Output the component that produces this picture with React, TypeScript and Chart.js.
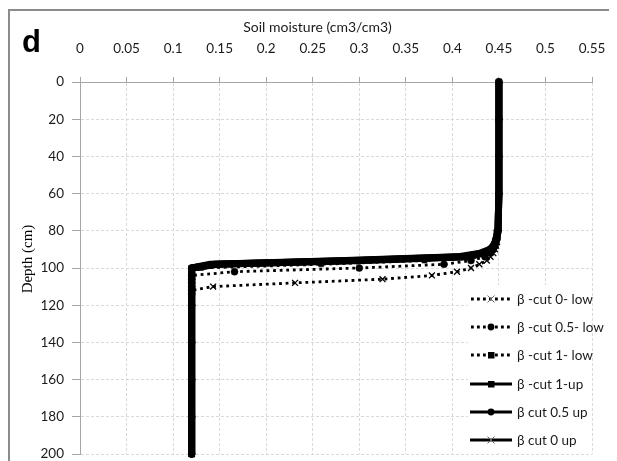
import React, { useEffect, useRef } from "react";
import { Chart, registerables } from "chart.js";

Chart.register(...registerables);

// Depth (cm) of each sample point
const DEPTH = [0, 20, 40, 60, 80, 84, 86, 88, 90, 92, 94, 96, 98, 100, 102, 104, 106, 108, 110, 112, 114, 120, 140, 160, 180, 200];

// Soil moisture (cm3/cm3) per series
const CUT0_LOW = [0.45, 0.45, 0.45, 0.45, 0.449, 0.448, 0.448, 0.447, 0.446, 0.444, 0.441, 0.437, 0.429, 0.42, 0.405, 0.378, 0.325, 0.231, 0.143, 0.12, 0.12, 0.12, 0.12, 0.12, 0.12, 0.12];
const CUT05_LOW = [0.45, 0.45, 0.45, 0.45, 0.449, 0.448, 0.447, 0.446, 0.444, 0.441, 0.435, 0.42, 0.391, 0.3, 0.166, 0.12, 0.12, 0.12, 0.12, 0.12, 0.12, 0.12, 0.12, 0.12, 0.12, 0.12];
const CUT1_LOW = [0.45, 0.45, 0.45, 0.45, 0.449, 0.448, 0.447, 0.445, 0.442, 0.436, 0.42, 0.37, 0.259, 0.13, 0.12, 0.12, 0.12, 0.12, 0.12, 0.12, 0.12, 0.12, 0.12, 0.12, 0.12, 0.12];
const CUT1_UP = [0.45, 0.45, 0.45, 0.45, 0.449, 0.447, 0.446, 0.444, 0.44, 0.43, 0.405, 0.285, 0.14, 0.12, 0.12, 0.12, 0.12, 0.12, 0.12, 0.12, 0.12, 0.12, 0.12, 0.12, 0.12, 0.12];
const CUT05_UP = [0.45, 0.45, 0.45, 0.45, 0.449, 0.447, 0.446, 0.444, 0.441, 0.432, 0.41, 0.295, 0.145, 0.12, 0.12, 0.12, 0.12, 0.12, 0.12, 0.12, 0.12, 0.12, 0.12, 0.12, 0.12, 0.12];
const CUT0_UP = [0.45, 0.45, 0.45, 0.45, 0.449, 0.448, 0.446, 0.445, 0.441, 0.433, 0.418, 0.303, 0.148, 0.12, 0.12, 0.12, 0.12, 0.12, 0.12, 0.12, 0.12, 0.12, 0.12, 0.12, 0.12, 0.12];

const SERIES_NAMES = ["β -cut 0- low", "β -cut 0.5- low", "β -cut 1- low", "β -cut 1-up", "β cut 0.5 up", "β cut 0 up"];
const SERIES_VALUES = [CUT0_LOW, CUT05_LOW, CUT1_LOW, CUT1_UP, CUT05_UP, CUT0_UP];

const X_TICKS = [0, 0.05, 0.1, 0.15, 0.2, 0.25, 0.3, 0.35, 0.4, 0.45, 0.5, 0.55];
const X_TICK_LABELS = ["0", "0.05", "0.1", "0.15", "0.2", "0.25", "0.3", "0.35", "0.4", "0.45", "0.5", "0.55"];
const Y_TICKS = [0, 20, 40, 60, 80, 100, 120, 140, 160, 180, 200];

const X_TITLE = "Soil moisture (cm3/cm3)";
const Y_TITLE = "Depth (cm)";
const PANEL = "d";

type Marker = "cross" | "circle" | "rect";
const STYLES: { dotted: boolean; marker: Marker }[] = [
  { dotted: true, marker: "cross" },
  { dotted: true, marker: "circle" },
  { dotted: true, marker: "rect" },
  { dotted: false, marker: "rect" },
  { dotted: false, marker: "circle" },
  { dotted: false, marker: "cross" },
];

const FONT = "Lato, 'Open Sans', sans-serif";

function Sample({ dotted, marker }: { dotted: boolean; marker: Marker }) {
  return (
    <svg width={42} height={12} style={{ display: "block" }}>
      {dotted ? (
        <line x1={1} y1={6} x2={41} y2={6} stroke="#000" strokeWidth={2.8} strokeDasharray="2.8 3.2" />
      ) : (
        <line x1={0} y1={6} x2={42} y2={6} stroke="#000" strokeWidth={3.2} />
      )}
      {marker === "circle" && <circle cx={21} cy={6} r={3.4} fill="#000" />}
      {marker === "rect" && <rect x={18} y={3} width={6.5} height={6.5} fill="#000" />}
      {marker === "cross" && (
        <g stroke="#666" strokeWidth={1}>
          <line x1={17.5} y1={2.5} x2={24.5} y2={9.5} />
          <line x1={24.5} y1={2.5} x2={17.5} y2={9.5} />
        </g>
      )}
    </svg>
  );
}

export default function App() {
  const ref = useRef<HTMLCanvasElement>(null);

  useEffect(() => {
    if (!ref.current) return;
    const datasets = SERIES_VALUES.map((xs, si) => {
      const st = STYLES[si];
      const pointStyle = st.marker === "cross" ? "crossRot" : st.marker;
      return {
        label: SERIES_NAMES[si],
        data: DEPTH.map((d, i) => ({ x: xs[i], y: d })),
        showLine: true,
        tension: 0,
        order: SERIES_NAMES.length - si,
        borderColor: "#000",
        backgroundColor: "#000",
        borderWidth: st.dotted ? 2.8 : 7,
        borderDash: st.dotted ? [2.8, 3.8] : [],
        borderJoinStyle: "round" as const,
        pointStyle,
        pointRadius: st.marker === "cross" ? 4.2 : st.dotted ? 3.5 : 3.2,
        pointBorderWidth: st.marker === "cross" ? 1.3 : 0.5,
        pointBorderColor: "#000",
        pointBackgroundColor: "#000",
        clip: false as const,
      };
    });

    const chart = new Chart(ref.current, {
      type: "scatter",
      data: { datasets },
      options: {
        animation: false,
        responsive: false,
        maintainAspectRatio: false,
        layout: { padding: { left: 0, top: 0, right: 25, bottom: 7 } },
        plugins: { legend: { display: false }, tooltip: { enabled: false }, title: { display: false } },
        scales: {
          x: {
            type: "linear",
            position: "top",
            min: 0,
            max: 0.55,
            afterFit: (s: any) => {
              s.height = 74;
              s.paddingLeft = 0;
              s.paddingRight = 0;
            },
            afterBuildTicks: (s: any) => {
              s.ticks = X_TICKS.map((v) => ({ value: v }));
            },
            ticks: {
              autoSkip: false,
              maxRotation: 0,
              padding: 20,
              color: "#1a1a1a",
              font: { family: FONT, size: 13.5 },
              callback: (_v: any, i: number) => X_TICK_LABELS[i],
            },
            grid: { color: "#d9d9d9", tickColor: "#a6a6a6", tickLength: 5, tickBorderDash: [] },
            border: { display: true, color: "#a6a6a6", width: 1, dash: [3, 2] },
          },
          y: {
            type: "linear",
            reverse: true,
            min: 0,
            max: 200,
            afterFit: (s: any) => {
              s.width = 72;
              s.paddingTop = 0;
              s.paddingBottom = 0;
            },
            afterBuildTicks: (s: any) => {
              s.ticks = Y_TICKS.map((v) => ({ value: v }));
            },
            ticks: {
              autoSkip: false,
              padding: 8,
              color: "#1a1a1a",
              font: { family: FONT, size: 13.5 },
              callback: (v: any) => String(v),
            },
            grid: { color: "#d9d9d9", tickColor: "#a6a6a6", tickLength: 8, tickBorderDash: [] },
            border: { display: true, color: "#a6a6a6", width: 1, dash: [3, 2] },
          },
        },
      } as any,
    });
    return () => chart.destroy();
  }, []);

  return (
    <div style={{ position: "relative", width: 609, height: 453, fontFamily: FONT, overflow: "hidden" }}>
      <canvas ref={ref} width={609} height={453} style={{ position: "absolute", left: 0, top: 0, display: "block" }} />
      <div
        style={{
          position: "absolute",
          left: 0,
          top: 1,
          width: 609,
          height: 452,
          boxSizing: "border-box",
          borderLeft: "2px solid #8c8c8c",
          borderTop: "2px solid #8c8c8c",
          pointerEvents: "none",
        }}
      />
      <div
        style={{
          position: "absolute",
          left: 14,
          top: 18,
          fontFamily: "'Liberation Sans', Arial, sans-serif",
          fontWeight: 700,
          fontSize: 31,
          lineHeight: 1,
          color: "#000",
        }}
      >
        {PANEL}
      </div>
      <div
        style={{
          position: "absolute",
          left: 309.5,
          top: 11,
          transform: "translateX(-50%)",
          whiteSpace: "nowrap",
          fontSize: 14,
          lineHeight: "16px",
          color: "#1a1a1a",
        }}
      >
        {X_TITLE}
      </div>
      <div
        style={{
          position: "absolute",
          left: 19,
          top: 251,
          transform: "translate(-50%, -50%) rotate(-90deg)",
          whiteSpace: "nowrap",
          fontFamily: "'Liberation Serif', 'Times New Roman', serif",
          fontSize: 15,
          lineHeight: "16px",
          color: "#000",
        }}
      >
        {Y_TITLE}
      </div>
      <div style={{ position: "absolute", left: 460, top: 277, width: 124, height: 166, background: "#fff" }}>
        {SERIES_NAMES.map((name, i) => (
          <div
            key={name}
            style={{ position: "absolute", left: 2, top: 14 + i * 28.2 - 8, height: 16, display: "flex", alignItems: "center" }}
          >
            <Sample dotted={STYLES[i].dotted} marker={STYLES[i].marker} />
            <span style={{ marginLeft: 5, fontSize: 13.5, lineHeight: "16px", color: "#1a1a1a", whiteSpace: "nowrap" }}>{name}</span>
          </div>
        ))}
      </div>
    </div>
  );
}
